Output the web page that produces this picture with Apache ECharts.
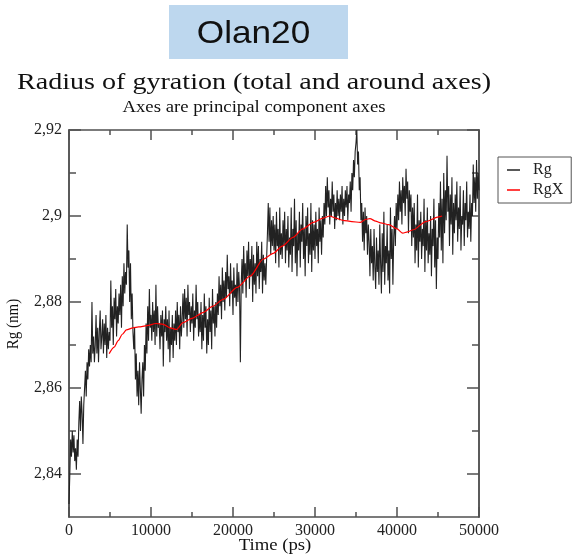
<!DOCTYPE html>
<html>
<head>
<meta charset="utf-8">
<script src="https://cdn.jsdelivr.net/npm/echarts@6/dist/echarts.min.js"></script>
<style>
html,body{margin:0;padding:0;background:#fff;}
#chart{width:578px;height:555px;}
</style>
</head>
<body>
<div id="chart"></div>
<script>
// Rg (nm), one sample every TIME_STEP ps starting at 0
var TIME_STEP = 100;
var rgValues = [
	2.833,2.840,2.848,2.844,2.850,2.845,2.849,2.843,2.846,2.841,
	2.848,2.844,2.852,2.857,2.850,2.858,2.854,2.847,2.856,2.860,
	2.864,2.858,2.866,2.862,2.869,2.865,2.870,2.866,2.880,2.868,
	2.872,2.866,2.870,2.877,2.868,2.874,2.866,2.873,2.878,2.869,
	2.872,2.876,2.868,2.875,2.870,2.877,2.867,2.874,2.869,2.873,
	2.871,2.885,2.874,2.879,2.870,2.881,2.876,2.883,2.872,2.879,
	2.875,2.882,2.877,2.884,2.874,2.886,2.879,2.889,2.882,2.887,
	2.884,2.898,2.888,2.892,2.880,2.889,2.876,2.882,2.873,2.869,
	2.874,2.862,2.868,2.858,2.864,2.856,2.866,2.860,2.854,2.862,
	2.866,2.858,2.870,2.864,2.875,2.868,2.879,2.871,2.883,2.874,
	2.877,2.871,2.880,2.873,2.878,2.870,2.884,2.872,2.879,2.874,
	2.875,2.869,2.877,2.872,2.878,2.865,2.876,2.873,2.879,2.871,
	2.876,2.869,2.878,2.866,2.874,2.870,2.877,2.867,2.875,2.871,
	2.878,2.870,2.880,2.873,2.877,2.869,2.879,2.872,2.876,2.882,
	2.874,2.883,2.876,2.881,2.872,2.884,2.877,2.880,2.873,2.879,
	2.875,2.882,2.871,2.878,2.874,2.884,2.876,2.880,2.872,2.877,
	2.873,2.880,2.869,2.877,2.871,2.882,2.874,2.879,2.868,2.876,
	2.870,2.881,2.873,2.878,2.869,2.883,2.875,2.879,2.872,2.880,
	2.874,2.882,2.877,2.886,2.879,2.884,2.876,2.888,2.880,2.885,
	2.878,2.887,2.881,2.891,2.883,2.886,2.879,2.889,2.882,2.885,
	2.877,2.888,2.881,2.884,2.879,2.889,2.880,2.887,2.883,2.866,
	2.884,2.890,2.882,2.893,2.885,2.889,2.881,2.892,2.886,2.894,
	2.883,2.890,2.886,2.893,2.880,2.891,2.884,2.889,2.882,2.894,
	2.886,2.893,2.883,2.890,2.887,2.894,2.882,2.891,2.885,2.889,
	2.884,2.890,2.896,2.903,2.894,2.902,2.891,2.899,2.893,2.900,
	2.892,2.898,2.889,2.901,2.893,2.897,2.888,2.902,2.891,2.896,
	2.890,2.899,2.893,2.901,2.889,2.897,2.892,2.900,2.888,2.895,
	2.891,2.902,2.887,2.897,2.893,2.904,2.889,2.899,2.886,2.896,
	2.892,2.901,2.888,2.898,2.894,2.903,2.890,2.897,2.886,2.900,
	2.893,2.902,2.889,2.896,2.891,2.903,2.887,2.899,2.892,2.898,
	2.890,2.901,2.893,2.897,2.889,2.902,2.894,2.899,2.891,2.900,
	2.895,2.903,2.898,2.907,2.900,2.909,2.902,2.906,2.898,2.904,
	2.900,2.908,2.901,2.905,2.897,2.903,2.899,2.906,2.900,2.904,
	2.899,2.905,2.901,2.907,2.898,2.904,2.900,2.906,2.902,2.907,
	2.899,2.905,2.903,2.908,2.901,2.910,2.906,2.913,2.909,2.915,
	2.917,2.920,2.912,2.915,2.906,2.909,2.899,2.903,2.894,2.901,
	2.892,2.902,2.896,2.900,2.891,2.898,2.894,2.886,2.897,2.889,
	2.893,2.885,2.897,2.888,2.883,2.895,2.887,2.892,2.884,2.898,
	2.889,2.882,2.896,2.887,2.901,2.884,2.893,2.889,2.898,2.885,
	2.892,2.882,2.902,2.890,2.897,2.884,2.895,2.900,2.893,2.903,
	2.897,2.905,2.899,2.908,2.901,2.906,2.898,2.909,2.903,2.907,
	2.900,2.911,2.904,2.908,2.896,2.906,2.901,2.905,2.893,2.902,
	2.895,2.903,2.889,2.898,2.892,2.905,2.888,2.899,2.894,2.901,
	2.890,2.897,2.893,2.904,2.887,2.899,2.892,2.902,2.889,2.896,
	2.891,2.900,2.886,2.897,2.893,2.904,2.888,2.899,2.883,2.895,
	2.890,2.903,2.895,2.908,2.892,2.904,2.889,2.910,2.896,2.906,
	2.899,2.914,2.901,2.907,2.893,2.905,2.898,2.909,2.891,2.903,
	2.896,2.905,2.899,2.908,2.894,2.902,2.897,2.907,2.892,2.900,
	2.898,2.906,2.893,2.903,2.899,2.908,2.895,2.901,2.897,2.905,
	2.894,2.903,2.900,2.912,2.903,2.909,2.901,2.913,2.904,2.910,
	2.906
];

// RgX (smoothed, red)
var rgxTimes  = [4900,5500,6000,6500,7000,7800,8500,9500,10600,11500,12300,13100,13900,15000,16400,17500,18800,20500,22100,23700,24900,26000,27300,28500,29800,31000,31800,32500,33400,34500,35500,36200,36700,37400,38000,39000,40000,40700,41300,42000,43500,45100,45500];
var rgxValues = [2.868,2.8695,2.871,2.8725,2.8735,2.874,2.8742,2.8745,2.875,2.8748,2.874,2.8736,2.8752,2.8762,2.8776,2.879,2.8806,2.8834,2.886,2.890,2.8913,2.893,2.895,2.897,2.8985,2.8995,2.900,2.8995,2.899,2.8987,2.8985,2.8992,2.8994,2.8988,2.8984,2.898,2.897,2.896,2.8963,2.8968,2.8987,2.8998,2.900];

// axis ticks
var yMajorTicks = [2.84,2.86,2.88,2.9,2.92];
var yMinorTicks = [2.85,2.87,2.89,2.91];

var FRAME = '#505050';
var SERIF = '"Liberation Serif","DejaVu Serif",serif';
var STRETCH = 1.17; // picture is stretched horizontally

function yLabel(v){
	return String(+v.toFixed(2)).replace('.',',');
}

function xAxisCfg(pos,showLabel){
	return {
		type:'value', position:pos, min:0, max:50000, interval:10000,
		axisLine:{show:true,onZero:false,lineStyle:{color:FRAME,width:1.5}},
		axisTick:{show:true,inside:true,length:10,lineStyle:{color:FRAME,width:1.5}},
		minorTick:{show:true,splitNumber:2,length:5,lineStyle:{color:FRAME,width:1.5}},
		axisLabel:{show:showLabel,margin:6,color:'#222',fontFamily:SERIF,fontSize:16,
			formatter:function(v){ return String(v); }},
		splitLine:{show:false}
	};
}

function yAxisCfg(pos,ticks,len,showLabel){
	return {
		type:'value', position:pos, min:2.83, max:2.92,
		axisLine:{show:true,onZero:false,lineStyle:{color:FRAME,width:1.5}},
		axisTick:{show:true,inside:true,length:len,customValues:ticks,lineStyle:{color:FRAME,width:1.5}},
		axisLabel:{show:showLabel,margin:7,customValues:ticks,formatter:yLabel,color:'#222',fontFamily:SERIF,fontSize:16},
		splitLine:{show:false}
	};
}

var chart = echarts.init(document.getElementById('chart'));

var rgData = rgValues.map(function(v,i){ return [i*TIME_STEP, v]; });
var rgxData = rgxTimes.map(function(t,i){ return [t, rgxValues[i]]; });

chart.setOption({
	animation:false,
	backgroundColor:'#fff',
	grid:{left:69,right:99,top:130,bottom:38},
	xAxis:[xAxisCfg('bottom',true), xAxisCfg('top',false)],
	yAxis:[
		yAxisCfg('left',yMajorTicks,12,true),
		yAxisCfg('left',yMinorTicks,7,false),
		yAxisCfg('right',yMajorTicks,12,false),
		yAxisCfg('right',yMinorTicks,7,false)
	],
	legend:{
		left:498, top:157, orient:'vertical',
		padding:[5,8,5,9], itemGap:4,
		itemWidth:13, itemHeight:1.5, icon:'rect',
		borderColor:'#555', borderWidth:1,
		textStyle:{fontFamily:SERIF,fontSize:16,color:'#222',padding:[0,0,0,8]},
		data:['Rg','RgX']
	},
	series:[
		{name:'Rg',type:'line',data:rgData,symbol:'none',color:'#222',
			lineStyle:{color:'#222',width:1.1}},
		{name:'RgX',type:'line',data:rgxData,symbol:'none',smooth:0.25,smoothMonotone:'x',color:'#ff0000',
			lineStyle:{color:'#ff0000',width:1.2}}
	],
	graphic:[
		{type:'rect',shape:{x:169,y:5,width:179,height:54},style:{fill:'#BDD7EE'}},
		{type:'text',x:253.5,y:34,scaleX:1.1,style:{text:'Olan20',textAlign:'center',textVerticalAlign:'middle',
			font:'32px "Liberation Sans", Arial, sans-serif',fill:'#111'}},
		{type:'text',x:17,y:83,scaleX:STRETCH,style:{text:'Radius of gyration (total and around axes)',textAlign:'left',textVerticalAlign:'middle',
			font:'24px '+SERIF,fill:'#111'}},
		{type:'text',x:254,y:108,scaleX:STRETCH,style:{text:'Axes are principal component axes',textAlign:'center',textVerticalAlign:'middle',
			font:'16px '+SERIF,fill:'#111'}},
		{type:'text',x:275,y:546,scaleX:STRETCH,style:{text:'Time (ps)',textAlign:'center',textVerticalAlign:'middle',
			font:'16px '+SERIF,fill:'#111'}},
		{type:'text',x:13,y:324,rotation:Math.PI/2,scaleY:STRETCH,style:{text:'Rg (nm)',textAlign:'center',textVerticalAlign:'middle',
			font:'15px '+SERIF,fill:'#111'}}
	]
});
</script>
</body>
</html>
